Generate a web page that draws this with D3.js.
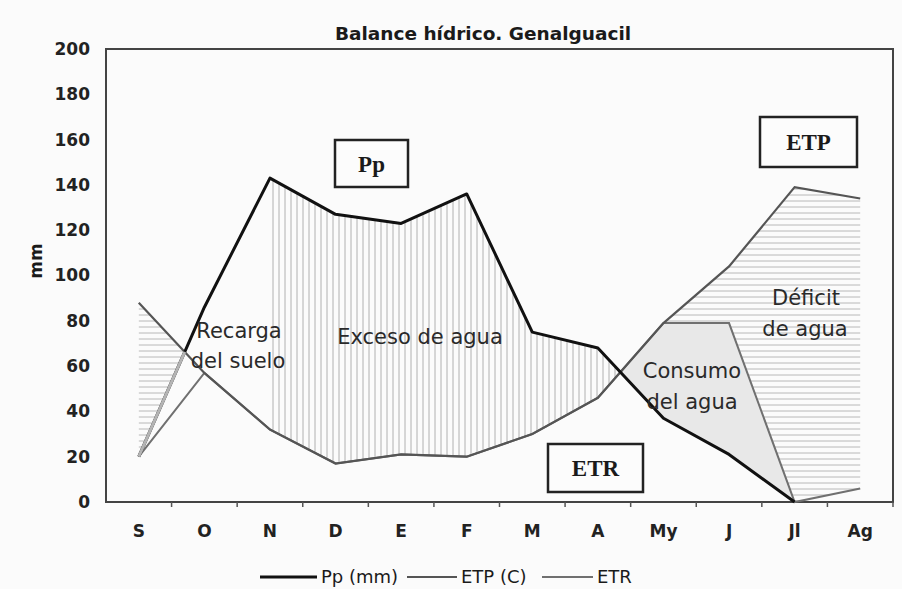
<!DOCTYPE html>
<html>
<head>
<meta charset="utf-8">
<script src="https://cdn.jsdelivr.net/npm/d3@7"></script>
<style>
  body { margin: 0; background: #fbfbfb; }
  svg text { font-family: "DejaVu Sans", sans-serif; fill: #1a1a1a; }
</style>
</head>
<body>
<svg id="chart" width="902" height="589"></svg>
<script>
// months of the hydrological year (Sept -> Aug)
var months = ["S", "O", "N", "D", "E", "F", "M", "A", "My", "J", "Jl", "Ag"];
var pp  = [20, 86, 143, 127, 123, 136, 75, 68, 37, 21, 0, null]; // precipitation (Ag not drawn)
var etp = [88, 57, 32, 17, 21, 20, 30, 46, 79, 104, 139, 134];  // potential ET
var etr = [20, 57, 32, 17, 21, 20, 30, 46, 79, 79, 0, 6];       // real ET
var yTicks = [0, 20, 40, 60, 80, 100, 120, 140, 160, 180, 200];

var svg = d3.select("#chart");
var plotL = 106, plotR = 893, plotT = 49, plotB = 502;

var x = d3.scaleBand().domain(months).range([plotL, plotR]).padding(0);
var bw = x.bandwidth();
// index -> pixel (centre of each month band), lets us place crossing points
var xi = d3.scaleLinear().domain([0, months.length - 1])
  .range([x(months[0]) + bw / 2, x(months[months.length - 1]) + bw / 2]);
var y = d3.scaleLinear().domain([0, 200]).range([plotB, plotT]);

// value of a series at a fractional index
function at(s, i) {
  var a = Math.floor(i), t = i - a;
  if (t === 0) return s[a];
  return s[a] + (s[a + 1] - s[a]) * t;
}
// where series a and b cross between index i and i+1
function cross(a, b, i) {
  var d0 = a[i] - b[i], d1 = a[i + 1] - b[i + 1];
  return i + d0 / (d0 - d1);
}
// points between two series from index i0 to i1
function band(hi, lo, i0, i1) {
  var idx = [i0];
  for (var k = Math.floor(i0) + 1; k < i1; k++) idx.push(k);
  idx.push(i1);
  return idx.map(function(i) { return { i: i, hi: at(hi, i), lo: at(lo, i) }; });
}

// hatch patterns
var defs = svg.append("defs");
var ph = defs.append("pattern").attr("id", "hatchH").attr("patternUnits", "userSpaceOnUse")
  .attr("width", 6).attr("height", 6);
ph.append("line").attr("x1", 0).attr("x2", 6).attr("y1", 3).attr("y2", 3)
  .attr("stroke", "#b8b8b8").attr("stroke-width", 1);
var pv = defs.append("pattern").attr("id", "hatchV").attr("patternUnits", "userSpaceOnUse")
  .attr("width", 6).attr("height", 6);
pv.append("line").attr("x1", 3).attr("x2", 3).attr("y1", 0).attr("y2", 6)
  .attr("stroke", "#b0b0b0").attr("stroke-width", 1);

var area = d3.area()
  .x(function(d) { return xi(d.i); })
  .y0(function(d) { return y(d.lo); })
  .y1(function(d) { return y(d.hi); });

var c0 = cross(pp, etp, 0);   // Pp meets ETP in autumn
var c1 = cross(pp, etp, 7);   // Pp meets ETP in spring

svg.append("path").attr("d", area(band(etp, pp, 0, c0))).attr("fill", "url(#hatchH)");
svg.append("path").attr("d", area(band(pp, etp, 2, c1))).attr("fill", "url(#hatchV)");
svg.append("path").attr("d", area(band(etr, pp, c1, 10))).attr("fill", "#e8e8e8");
svg.append("path").attr("d", area(band(etp, etr, 8, 11))).attr("fill", "url(#hatchH)");

// frame
svg.append("rect").attr("x", plotL).attr("y", plotT)
  .attr("width", plotR - plotL).attr("height", plotB - plotT)
  .attr("fill", "none").attr("stroke", "#444").attr("stroke-width", 2);

// axes
var xAxis = svg.append("g").attr("transform", "translate(0," + plotB + ")")
  .call(d3.axisBottom(x).tickSize(0).tickPadding(23));
xAxis.select(".domain").remove();
xAxis.selectAll("text").attr("font-size", 17).attr("font-weight", "bold")
  .attr("font-family", "DejaVu Sans").style("fill", "#222");
svg.append("g").selectAll("line")
  .data(months)
  .join("line")
  .attr("x1", function(d) { return x(d) + bw; })
  .attr("x2", function(d) { return x(d) + bw; })
  .attr("y1", plotB).attr("y2", plotB + 5)
  .attr("stroke", "#555").attr("stroke-width", 1.5);

var yAxis = svg.append("g").attr("transform", "translate(" + plotL + ",0)")
  .call(d3.axisLeft(y).tickValues(yTicks).tickSize(0).tickPadding(16));
yAxis.select(".domain").remove();
yAxis.selectAll("text").attr("font-size", 17).attr("font-weight", "bold")
  .attr("font-family", "DejaVu Sans").style("fill", "#222");

svg.append("text").attr("transform", "translate(42,261) rotate(-90)")
  .attr("text-anchor", "middle").attr("font-weight", "bold").attr("font-size", 17)
  .text("mm");

svg.append("text").attr("x", 483).attr("y", 40).attr("text-anchor", "middle")
  .attr("font-weight", "bold").attr("font-size", 18.5).text("Balance hídrico. Genalguacil");

// series lines
var line = d3.line()
  .defined(function(d) { return d !== null; })
  .x(function(d, i) { return xi(i); }).y(function(d) { return y(d); });
svg.append("path").attr("d", line(etr)).attr("fill", "none").attr("stroke", "#707070").attr("stroke-width", 2);
svg.append("path").attr("d", line(etp)).attr("fill", "none").attr("stroke", "#555").attr("stroke-width", 2.2);
svg.append("path").attr("d", line(pp)).attr("fill", "none").attr("stroke", "#111").attr("stroke-width", 3)
  .attr("stroke-linejoin", "round");
// the first stretch of Pp shows faded in the original
var fade = band(pp, pp, 0, c0);
svg.append("path").attr("d", d3.line().x(function(d) { return xi(d.i); }).y(function(d) { return y(d.hi); })(fade))
  .attr("fill", "none").attr("stroke", "#b4b4b4").attr("stroke-width", 3);

// boxed labels
var boxes = [
  { t: "Pp", x: 335, y: 140, w: 73, h: 47 },
  { t: "ETP", x: 760, y: 117, w: 97, h: 50 },
  { t: "ETR", x: 548, y: 444, w: 95, h: 48 }
];
var bx = svg.append("g").selectAll("g").data(boxes).join("g");
bx.append("rect").attr("x", function(d) { return d.x; }).attr("y", function(d) { return d.y; })
  .attr("width", function(d) { return d.w; }).attr("height", function(d) { return d.h; })
  .attr("fill", "#fcfcfc").attr("stroke", "#222").attr("stroke-width", 2.5);
bx.append("text").attr("x", function(d) { return d.x + d.w / 2; })
  .attr("y", function(d) { return d.y + d.h / 2; }).attr("dy", "0.35em")
  .attr("text-anchor", "middle")
  .style("font-family", "Liberation Serif, serif")
  .attr("font-weight", "bold").attr("font-size", 23).text(function(d) { return d.t; });

// region labels
var notes = [
  { t: "Recarga", x: 239, y: 331 }, { t: "del suelo", x: 238, y: 361 },
  { t: "Exceso de agua", x: 420, y: 337 },
  { t: "Consumo", x: 692, y: 371 }, { t: "del agua", x: 692, y: 402 },
  { t: "Déficit", x: 806, y: 298 }, { t: "de agua", x: 805, y: 329 }
];
svg.append("g").selectAll("text").data(notes).join("text")
  .attr("x", function(d) { return d.x; }).attr("y", function(d) { return d.y; })
  .attr("dy", "0.35em").attr("text-anchor", "middle").attr("font-size", 21)
  .style("fill", "#2a2a2a").text(function(d) { return d.t; });

// legend
var legend = [
  { t: "Pp (mm)", x1: 260, x2: 317, c: "#111", w: 3 },
  { t: "ETP (C)", x1: 407, x2: 457, c: "#555", w: 2.2 },
  { t: "ETR", x1: 542, x2: 593, c: "#707070", w: 2 }
];
var lg = svg.append("g").selectAll("g").data(legend).join("g");
lg.append("line").attr("x1", function(d) { return d.x1; }).attr("x2", function(d) { return d.x2; })
  .attr("y1", 577).attr("y2", 577).attr("stroke", function(d) { return d.c; })
  .attr("stroke-width", function(d) { return d.w; });
lg.append("text").attr("x", function(d) { return d.x2 + 4; }).attr("y", 577).attr("dy", "0.35em")
  .attr("font-size", 18).text(function(d) { return d.t; });
</script>
</body>
</html>
